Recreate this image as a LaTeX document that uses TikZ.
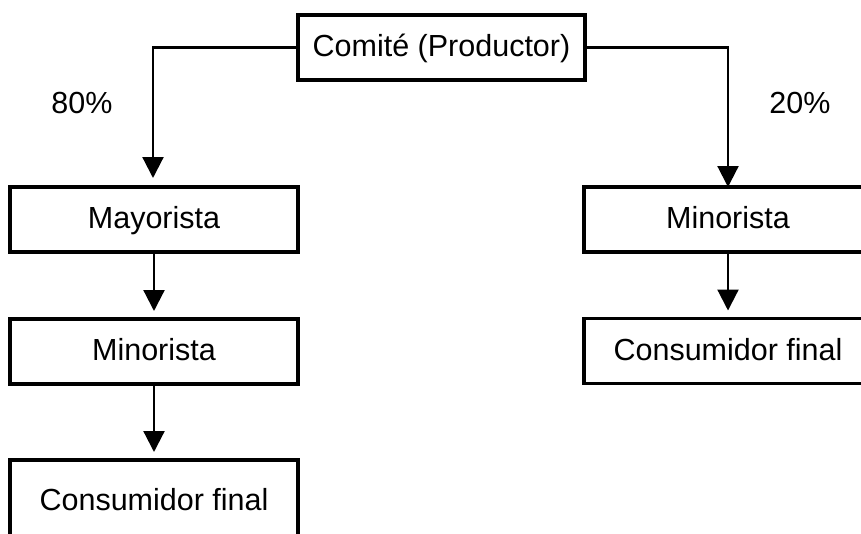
\documentclass[tikz,border=0pt]{standalone}
\usepackage{fontspec}
\setmainfont{Liberation Sans}
\usetikzlibrary{arrows.meta}
\tikzset{
  box/.style={draw, line width=3.4pt, minimum width=288pt, minimum height=65pt, inner sep=0pt, outer sep=0pt, text height=24.4pt, text depth=6.1pt, font=\fontsize{30.5}{36}\selectfont},
  lbl/.style={inner sep=0pt, font=\fontsize{30.5}{36}\selectfont},
  conn/.style={line width=2.2pt, -{Triangle[width=21pt,length=21pt]}}
}
\begin{document}
\begin{tikzpicture}[x=1pt,y=-1pt]
\useasboundingbox (0,0) rectangle (861,533);
\clip (0,0) rectangle (861,533);
\node[box, minimum width=287pt] (top) at (441.5,47.5) {Comité (Productor)};
\node[box] (may) at (154,219.5) {Mayorista};
\node[box] (min1) at (154,351.5) {Minorista};
\node[box, minimum height=83pt] (cons1) at (154,501.5) {Consumidor final};
\node[box] (min2) at (728,219.5) {Minorista};
\node[box] (cons2) at (728,351) {Consumidor final};
\node[lbl] (p80) at (82,103) {80\%};
\node[lbl] (p20) at (800,103) {20\%};
\coordinate (la) at (153,178);
\draw[conn] (top.west) -| (la);
\draw[conn] (top.east) -| (min2.north);
\draw[conn] (may.south) -- ([yshift=8pt]min1.north);
\draw[conn] (min1.south) -- ([yshift=8pt]cons1.north);
\draw[conn] (min2.south) -- ([yshift=8pt]cons2.north);
\end{tikzpicture}
\end{document}
